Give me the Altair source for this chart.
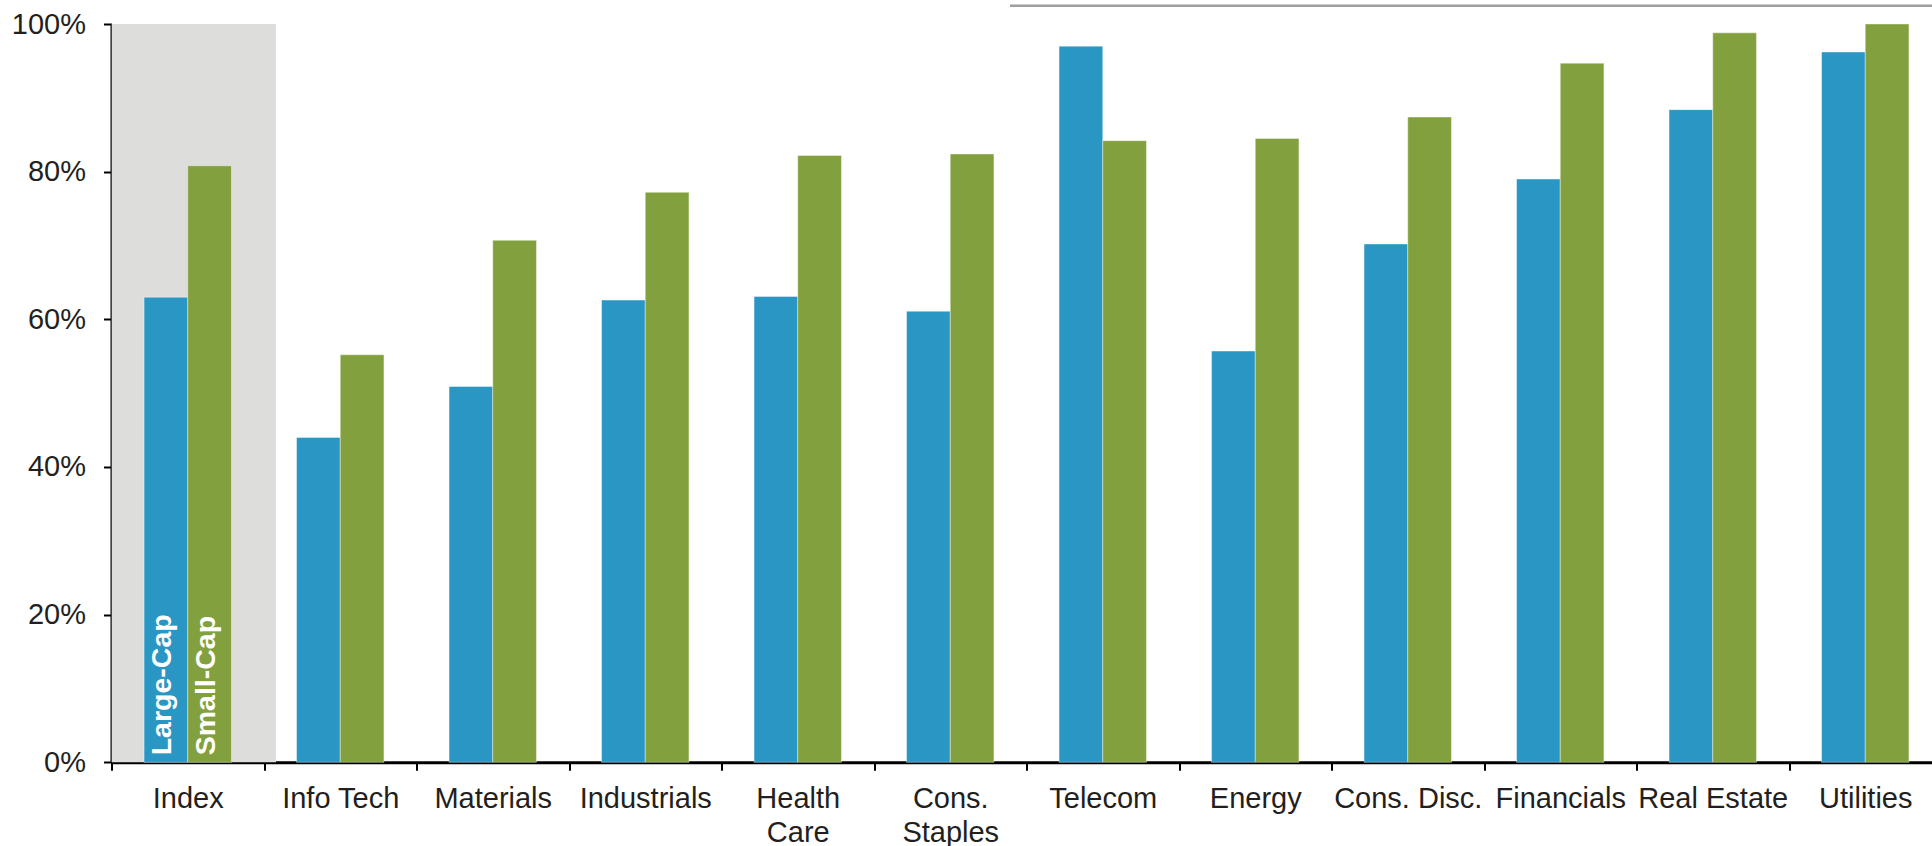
import altair as alt
import pandas as pd

categories = ["Index", "Info Tech", "Materials", "Industrials", "Health Care",
              "Cons. Staples", "Telecom", "Energy", "Cons. Disc.", "Financials",
              "Real Estate", "Utilities"]
large_cap = [63.0, 44.0, 50.9, 62.6, 63.1, 61.1, 97.0, 55.7, 70.2, 79.0, 88.4, 96.2]
small_cap = [80.8, 55.2, 70.7, 77.2, 82.2, 82.4, 84.2, 84.5, 87.4, 94.7, 98.8, 100.0]
series = ["Large-Cap", "Small-Cap"]
y_ticks = [0, 20, 40, 60, 80, 100]

BLUE = "#2A96C4"
GREEN = "#82A03E"
FONT = "Liberation Sans"

rows = []
for c, l, s in zip(categories, large_cap, small_cap):
    rows.append({"category": c, "series": series[0], "value": l})
    rows.append({"category": c, "series": series[1], "value": s})
df = pd.DataFrame(rows)

bg_df = pd.DataFrame({"category": ["Index"], "top": [100], "bottom": [0]})
lbl_df = pd.DataFrame({"category": ["Index", "Index"], "series": series, "value": [0, 0]})
line_df = pd.DataFrame({"a": [0]})

x_scale = alt.Scale(domain=categories, range=[0, 1830], paddingInner=0, paddingOuter=0)
y_scale = alt.Scale(domain=[0, 100])
off_scale = alt.Scale(domain=series, paddingInner=0, paddingOuter=0.745)

label_expr = ("datum.value == 'Health Care' ? ['Health', 'Care'] : "
              "datum.value == 'Cons. Staples' ? ['Cons.', 'Staples'] : datum.label")

x_enc = alt.X("category:N", sort=categories, scale=x_scale,
              axis=alt.Axis(title=None, labelAngle=0, tickBand="extent",
                            labelExpr=label_expr, labelPadding=14,
                            labelLineHeight=34, labelOverlap=False, labelBound=False))
y_axis = alt.Axis(title=None, values=y_ticks, labelExpr="datum.value + '%'",
                  labelPadding=18, grid=False)

bg = alt.Chart(bg_df).mark_bar(color="#DDDDDC", width=164.3, xOffset=6.1).encode(
    x=x_enc,
    y=alt.Y("top:Q", scale=y_scale, axis=y_axis),
    y2="bottom:Q",
)

bars = alt.Chart(df).mark_bar(stroke="white", strokeWidth=1, strokeOpacity=0.4).encode(
    x=x_enc,
    xOffset=alt.XOffset("series:N", scale=off_scale, sort=series),
    y=alt.Y("value:Q", scale=y_scale, axis=y_axis),
    color=alt.Color("series:N", scale=alt.Scale(domain=series, range=[BLUE, GREEN]), legend=None),
)

labels = alt.Chart(lbl_df).mark_text(
    angle=270, align="left", baseline="middle", dx=7, dy=-4,
    font=FONT, fontSize=28.5, fontWeight="bold", color="white",
).encode(
    x=x_enc,
    xOffset=alt.XOffset("series:N", scale=off_scale, sort=series),
    y=alt.Y("value:Q", scale=y_scale, axis=y_axis),
    text="series:N",
)

top_line = alt.Chart(line_df).mark_rule(color="#9E9E9E", strokeWidth=2.5).encode(
    x=alt.value(898.5), x2=alt.value(1830), y=alt.value(-18.3)
)

chart = alt.layer(bg, bars, labels, top_line).properties(
    width=1820.5, height=738.3,
    autosize=alt.AutoSizeParams(type="none"),
    padding={"left": 111.5, "top": 24, "right": 0, "bottom": 83.7},
    background="white",
).configure_view(stroke=None).configure_axis(
    domainColor="black", domainWidth=3, tickColor="black", tickWidth=2, tickSize=8,
    labelFont=FONT, labelFontSize=29, labelColor="#231F20", zindex=1,
)

chart.save("out.html", embed_options={"renderer": "svg", "actions": False})
